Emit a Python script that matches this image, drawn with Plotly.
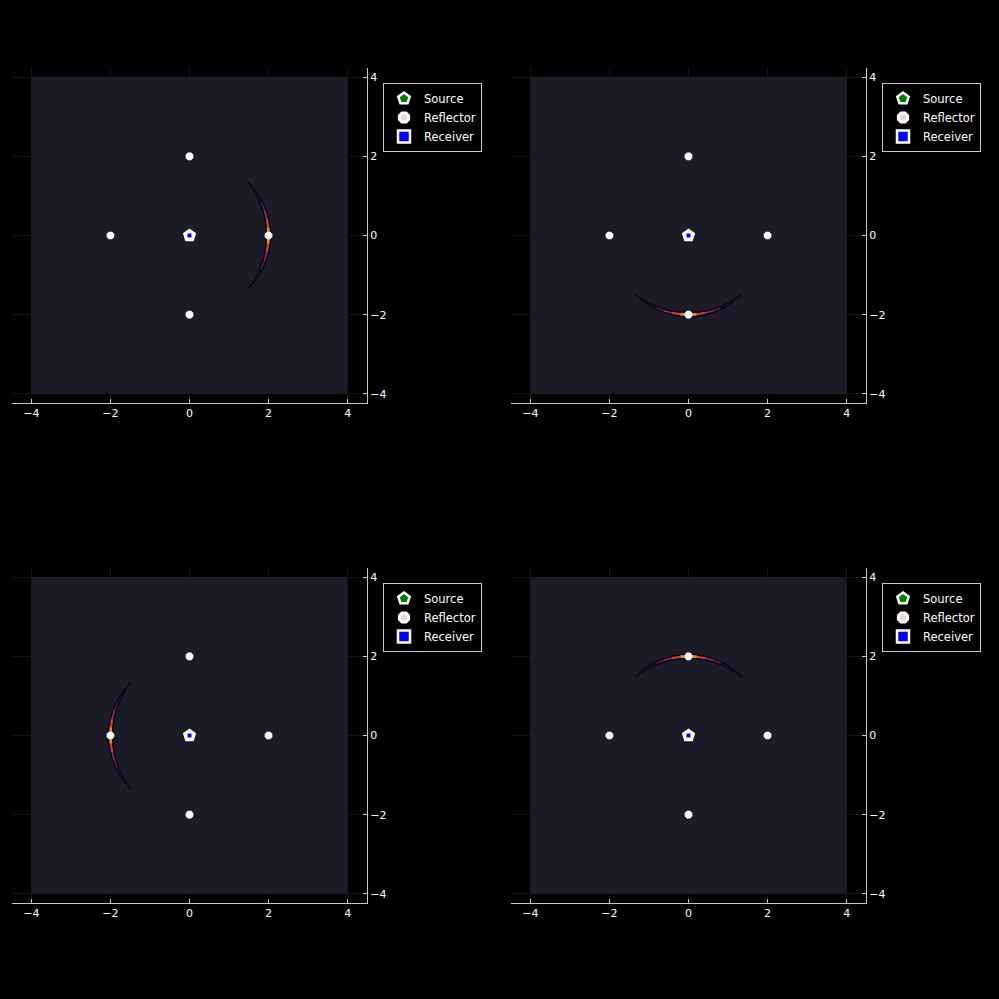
import plotly.graph_objects as go
import plotly.colors as pc
import math

# ---------------- data ----------------
tick_vals = [-4, -2, 0, 2, 4]
field_edges = [-4, 4]             # imaged region (heatmap cell edges)
background_level = [[0.0]]        # nearly zero energy everywhere

source_x = [0]
source_y = [0]
receiver_x = [0]
receiver_y = [0]
reflector_x = [0, -2, 2, 0]
reflector_y = [2, 0, 0, -2]

# imaged arc (radius about the source) for each panel: direction of the lit reflector (deg)
panel_direction_deg = [0, -90, 180, 90]
arc_radius = 2.0
arc_offset_deg = [-42, -36, -30, -24, -18, -12, -6, 0, 6, 12, 18, 24, 30, 36, 42]
arc_intensity = [0.03, 0.10, 0.20, 0.30, 0.38, 0.45, 0.62, 0.85, 0.62, 0.45, 0.38, 0.30, 0.20, 0.10, 0.03]
arc_band_width = [1.2, 2.2, 3.2, 4, 4.5, 5, 5.5, 6, 5.5, 5, 4.5, 4, 3.2, 2.2, 1.2]

# ---------------- layout geometry ----------------
W = H = 999
x_domains = [[12 / W, 367 / W], [511 / W, 866 / W]]
y_domains = [[1 - 403 / H, 1 - 68 / H], [1 - 903 / H, 1 - 568 / H]]
panel_pos = [(0, 0), (1, 0), (0, 1), (1, 1)]  # (col,row)

fig = go.Figure()
bg_col = "#1c1c28"
axis_col = "#c8c8c8"
grid_col = "#141414"
font = dict(family="DejaVu Sans", size=11, color="white")
legend_font = dict(family="DejaVu Sans", size=11.5, color="white")

for p in range(4):
    col, row = panel_pos[p]
    n = "" if p == 0 else str(p + 1)
    xa, ya = "x" + n, "y" + n
    leg = "legend" + n

    # background field
    fig.add_trace(go.Heatmap(
        z=background_level, x=field_edges, y=field_edges,
        colorscale=[[0, bg_col], [1, bg_col]], showscale=False, hoverinfo="skip",
        xaxis=xa, yaxis=ya))

    # imaged arc: dark band then inferno-coloured core
    d = panel_direction_deg[p]
    pts = [(arc_radius * math.cos(math.radians(d + a)), arc_radius * math.sin(math.radians(d + a)))
           for a in arc_offset_deg]
    for layer in range(2):
        for i in range(len(pts) - 1):
            inten = (arc_intensity[i] + arc_intensity[i + 1]) / 2
            w = (arc_band_width[i] + arc_band_width[i + 1]) / 2
            if layer == 0:
                colr, lw = "#06020e", w
            else:
                colr = pc.sample_colorscale("Inferno", [inten])[0]
                lw = max(w - 3, 0.7)
            fig.add_trace(go.Scatter(
                x=[pts[i][0], pts[i + 1][0]], y=[pts[i][1], pts[i + 1][1]],
                mode="lines", line=dict(color=colr, width=lw),
                showlegend=False, hoverinfo="skip", xaxis=xa, yaxis=ya))

    # plotted markers
    fig.add_trace(go.Scatter(
        x=reflector_x, y=reflector_y, mode="markers", name="Reflector", showlegend=False,
        marker=dict(symbol="octagon", size=4, color="#f0d0d0", line=dict(color="white", width=4)),
        xaxis=xa, yaxis=ya))
    fig.add_trace(go.Scatter(
        x=source_x, y=source_y, mode="markers", name="Source", showlegend=False,
        marker=dict(symbol="pentagon", size=9, color="green", line=dict(color="white", width=4)),
        xaxis=xa, yaxis=ya))
    fig.add_trace(go.Scatter(
        x=receiver_x, y=receiver_y, mode="markers", name="Receiver", showlegend=False,
        marker=dict(symbol="square", size=5, color="blue", line=dict(color="white", width=1)),
        xaxis=xa, yaxis=ya))

    # legend entries (larger symbols, as in the reference legend)
    fig.add_trace(go.Scatter(
        x=[None], y=[None], mode="markers", name="Source",
        marker=dict(symbol="pentagon", size=12, color="green", line=dict(color="white", width=2.5)),
        legend=leg, legendrank=1, xaxis=xa, yaxis=ya))
    fig.add_trace(go.Scatter(
        x=[None], y=[None], mode="markers", name="Reflector",
        marker=dict(symbol="octagon", size=10, color="#f0d0d0", line=dict(color="white", width=3)),
        legend=leg, legendrank=2, xaxis=xa, yaxis=ya))
    fig.add_trace(go.Scatter(
        x=[None], y=[None], mode="markers", name="Receiver",
        marker=dict(symbol="square", size=12, color="blue", line=dict(color="white", width=2.5)),
        legend=leg, legendrank=3, xaxis=xa, yaxis=ya))

    xd = x_domains[col]
    yd = y_domains[row]
    axis_common = dict(
        tickvals=tick_vals, ticks="inside", ticklen=4, tickcolor=axis_col,
        showline=True, linecolor=axis_col, linewidth=1, mirror=False,
        showgrid=True, gridcolor=grid_col, gridwidth=1, zeroline=False,
        tickfont=font, fixedrange=True)
    fig.update_layout(**{
        "xaxis" + n: dict(domain=xd, range=[-4.49, 4.49], anchor=ya, **axis_common),
        "yaxis" + n: dict(domain=yd, range=[-4.23, 4.23], anchor=xa, side="right", **axis_common),
        leg: dict(x=(xd[1] * W + 16) / W, y=yd[1] - 15 / H, xanchor="left", yanchor="top",
                  bgcolor="black", bordercolor=axis_col, borderwidth=1, font=legend_font,
                  tracegroupgap=0, itemwidth=30),
    })

fig.update_layout(width=W, height=H, margin=dict(l=0, r=0, t=0, b=0),
                  paper_bgcolor="black", plot_bgcolor="black", font=font)
fig.write_html("out.html")
